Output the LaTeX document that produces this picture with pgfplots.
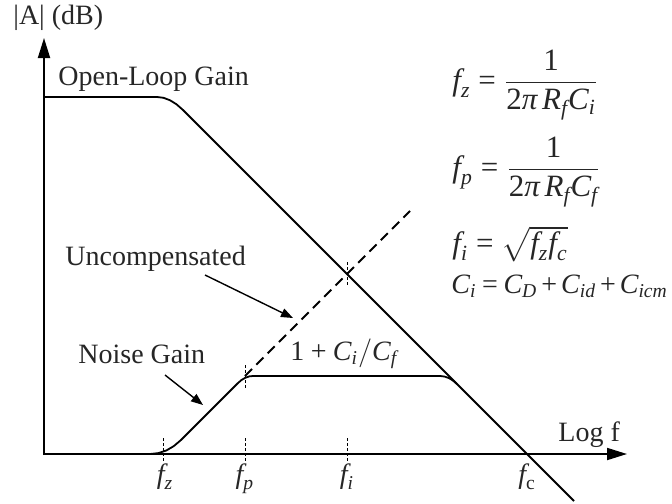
\documentclass[border=0pt]{standalone}
\usepackage{amsmath}
\usepackage{fontspec}
\setmainfont{Liberation Serif}
\setmathrm{Liberation Serif}
\usepackage{pgfplots}
\pgfplotsset{compat=1.18}
\usetikzlibrary{arrows.meta}
\newcommand\mi[1]{\textit{#1}}
\newcommand\tx[1]{\textup{#1}}
\newcommand\eq{\mathrel{\text{=}}}
\newcommand\pl{\mathbin{\text{+}}}
\begin{document}
\begin{tikzpicture}
\begin{axis}[width=336pt, height=251.5pt, scale only axis,
  xmin=0, xmax=672, ymin=0, ymax=503, y dir=reverse,
  hide axis, clip=false, no markers,
  curve/.style={black, line width=0.9pt, line join=round}]
% axes
\addplot[black, -{Triangle[length=10pt,width=6pt]}, line width=0.9pt] coordinates {(44,455) (44,38)};
\addplot[black, -{Triangle[length=10pt,width=6pt]}, line width=0.9pt] coordinates {(44,454) (627,454)};
% open-loop gain
\addplot[curve] coordinates {(44,97) (157,97) (163.5,97.8) (170,100.25) (176.5,104.3) (183,110) (574,501)};
% noise gain
\addplot[curve] coordinates {(150,454) (158.3,453.1) (166.3,450.5) (173.8,446.1) (181,440)
  (238,383) (241.6,379.9) (245.3,377.8) (249.1,376.4) (253,376)
  (440,376) (444.4,376.5) (448.8,378) (452.9,380.5) (457,384)};
% uncompensated
\addplot[black, line width=0.9pt, dash pattern=on 5pt off 3pt] coordinates {(245,376) (410,211)};
% frequency markers
\addplot[black, line width=0.5pt, dash pattern=on 1.5pt off 1pt] coordinates {(163,438) (163,461)};
\addplot[black, line width=0.5pt, dash pattern=on 1.5pt off 1pt] coordinates {(245,438) (245,461)};
\addplot[black, line width=0.5pt, dash pattern=on 1.5pt off 1pt] coordinates {(347,438) (347,461)};
\addplot[black, line width=0.5pt, dash pattern=on 1.5pt off 1pt] coordinates {(245,365) (245,389)};
\addplot[black, line width=0.5pt, dash pattern=on 1.5pt off 1pt] coordinates {(347,262) (347,286)};
% pointers
\addplot[black, line width=0.7pt, -{Triangle[length=6pt,width=4.5pt]}] coordinates {(205,275) (293,318)};
\addplot[black, line width=0.7pt, -{Triangle[length=6pt,width=4.5pt]}] coordinates {(165,375) (203,405)};
% labels
\begin{scope}[every node/.style={font=\fontsize{14pt}{16pt}\selectfont, inner sep=0pt, text=black!85}]
\node[anchor=base west] at (axis cs:13,25) {|A| (dB)};
\node[anchor=base west] at (axis cs:58,85) {Open-Loop Gain};
\node[anchor=base west] at (axis cs:65,265) {Uncompensated};
\node[anchor=base west] at (axis cs:78,363) {Noise Gain};
\node[anchor=base west] at (axis cs:290,360) {$\tx{1}\pl\mi{C}_{\mi{i}}/\mi{C}_{\mi{f}}$};
\node[anchor=base west] at (axis cs:558,441) {Log f};
\node[anchor=base] at (axis cs:165,483) {$\mi{f}_{\mi{z}}$};
\node[anchor=base] at (axis cs:245,483) {$\mi{f}_{\mi{p}}$};
\node[anchor=base] at (axis cs:347,483) {$\mi{f}_{\mi{i}}$};
\node[anchor=base] at (axis cs:527,483) {$\mi{f}_{\mathrm{c}}$};
\end{scope}
\begin{scope}[every node/.style={font=\fontsize{15.5pt}{18pt}\selectfont, inner sep=0pt, text=black!85}]
\node[anchor=base west] at (axis cs:452,90) {$\mi{f}_{\mi{z}} \eq \dfrac{\tx{1}}{\tx{2}\mi{π}\,\mi{R}_{\mi{f}}\mi{C}_{\mi{i}}}$};
\node[anchor=base west] at (axis cs:452,177) {$\mi{f}_{\mi{p}} \eq \dfrac{\tx{1}}{\tx{2}\mi{π}\,\mi{R}_{\mi{f}}\mi{C}_{\mi{f}}}$};
\node[anchor=base west] at (axis cs:452,253) {$\mi{f}_{\mi{i}} \eq \sqrt{\mi{f}_{\mi{z}}\mi{f}_{\mi{c}}}$};
\node[anchor=base west, font=\fontsize{14pt}{18pt}\selectfont] at (axis cs:451,293) {$\medmuskip=2.5mu\thickmuskip=3.5mu \mi{C}_{\mi{i}} \eq \mi{C}_{\mi{D}} \pl \mi{C}_{\mi{id}} \pl \mi{C}_{\mi{icm}}$};
\end{scope}
\end{axis}
\pgfresetboundingbox
\path[use as bounding box] (current axis.south west) rectangle (current axis.north east);
\end{tikzpicture}
\end{document}
